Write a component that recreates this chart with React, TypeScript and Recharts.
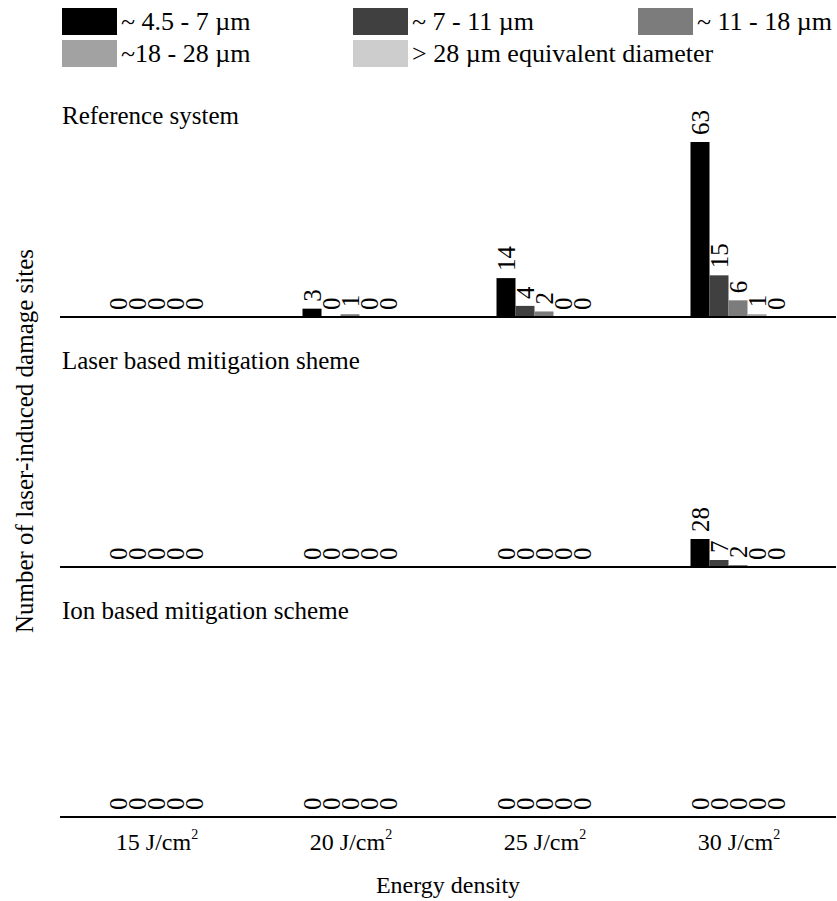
import { Bar, BarChart, LabelList, XAxis, YAxis } from 'recharts'

const categories = ['15', '20', '25', '30']
const seriesNames = ['~ 4.5 - 7 µm', '~ 7 - 11 µm', '~ 11 - 18 µm', '~18 - 28 µm', '> 28 µm equivalent diameter']
const seriesColors = ['#000000', '#404040', '#7c7c7c', '#a2a2a2', '#cdcdcd']

// one row per size class, one value per energy density
const referenceSystem = [
  [0, 3, 14, 63],
  [0, 0, 4, 15],
  [0, 1, 2, 6],
  [0, 0, 0, 1],
  [0, 0, 0, 0],
]
const laserMitigation = [
  [0, 0, 0, 28],
  [0, 0, 0, 7],
  [0, 0, 0, 2],
  [0, 0, 0, 0],
  [0, 0, 0, 0],
]
const ionMitigation = [
  [0, 0, 0, 0],
  [0, 0, 0, 0],
  [0, 0, 0, 0],
  [0, 0, 0, 0],
  [0, 0, 0, 0],
]

const FONT = "'Liberation Serif', 'Times New Roman', serif"

function toRows(values: number[][]) {
  return categories.map((cat, i) => {
    const row: Record<string, any> = { cat }
    values.forEach((s, k) => {
      row['s' + k] = s[i]
      row['l' + k] = String(s[i])
    })
    return row
  })
}

function RotatedLabel(props: any) {
  const { x, y, width, height, value } = props
  const cx = x + width / 2
  // bars drawn with a tiny minimum size: use the bottom edge for zeros
  const top = value === '0' ? y + height : y
  return (
    <text
      transform={`translate(${cx}, ${top - 7}) rotate(-90)`}
      textAnchor="start"
      dominantBaseline="central"
      fontFamily="Liberation Serif"
      fontSize={25}
      fill="#000"
    >
      {value}
    </text>
  )
}

function EnergyTick(props: any) {
  const { x, y, payload } = props
  return (
    <text x={x} y={y + 25} textAnchor="middle" fontFamily="Liberation Serif" fontSize={24} fill="#000">
      {payload.value} J/cm
      <tspan fontSize={14} dy={-11}>2</tspan>
    </text>
  )
}

function Panel({ values, max, showTicks }: { values: number[][]; max: number; showTicks?: boolean }) {
  const axisH = showTicks ? 40 : 1
  return (
    <BarChart
      width={837}
      height={250 + axisH}
      data={toRows(values)}
      margin={{ top: 50, right: 1, left: 60, bottom: 0 }}
      barCategoryGap="25%"
      barGap={0}
    >
      <XAxis
        dataKey="cat"
        height={axisH}
        axisLine={{ stroke: '#000', strokeWidth: 2 }}
        tickLine={false}
        tick={showTicks ? <EnergyTick /> : false}
        interval={0}
      />
      <YAxis hide domain={[0, max]} />
      {values.map((_, k) => (
        <Bar key={k} dataKey={'s' + k} fill={seriesColors[k]} minPointSize={0.01} isAnimationActive={false}>
          <LabelList dataKey={'l' + k} content={<RotatedLabel />} />
        </Bar>
      ))}
    </BarChart>
  )
}

const legendSpots = [
  [62, 8],
  [353, 8],
  [638, 8],
  [62, 40],
  [353, 40],
]

export default function App() {
  return (
    <div style={{ position: 'relative', width: 837, height: 901, background: '#fff', fontFamily: FONT }}>
      <style>{`body{margin:0}`}</style>
      <div style={{ position: 'absolute', left: 0, top: 67 }}>
        <Panel values={referenceSystem} max={72} />
      </div>
      <div style={{ position: 'absolute', left: 0, top: 317 }}>
        <Panel values={laserMitigation} max={200} />
      </div>
      <div style={{ position: 'absolute', left: 0, top: 567 }}>
        <Panel values={ionMitigation} max={200} showTicks />
      </div>
      <svg width={837} height={901} style={{ position: 'absolute', left: 0, top: 0, pointerEvents: 'none' }}>
        {seriesNames.map((name, k) => (
          <g key={k}>
            <rect x={legendSpots[k][0]} y={legendSpots[k][1]} width={55} height={27} fill={seriesColors[k]} />
            <text x={legendSpots[k][0] + 59} y={legendSpots[k][1] + 22} fontFamily="Liberation Serif" fontSize={26} fill="#000">
              {name}
            </text>
          </g>
        ))}
        <text x={62} y={124} fontFamily="Liberation Serif" fontSize={25} fill="#000">Reference system</text>
        <text x={62} y={369} fontFamily="Liberation Serif" fontSize={25} fill="#000">Laser based mitigation sheme</text>
        <text x={62} y={619} fontFamily="Liberation Serif" fontSize={25} fill="#000">Ion based mitigation scheme</text>
        <text transform="translate(33, 441) rotate(-90)" textAnchor="middle" fontFamily="Liberation Serif" fontSize={25} fill="#000">
          Number of laser-induced damage sites
        </text>
        <text x={448} y={893} textAnchor="middle" fontFamily="Liberation Serif" fontSize={24} fill="#000">Energy density</text>
      </svg>
    </div>
  )
}
